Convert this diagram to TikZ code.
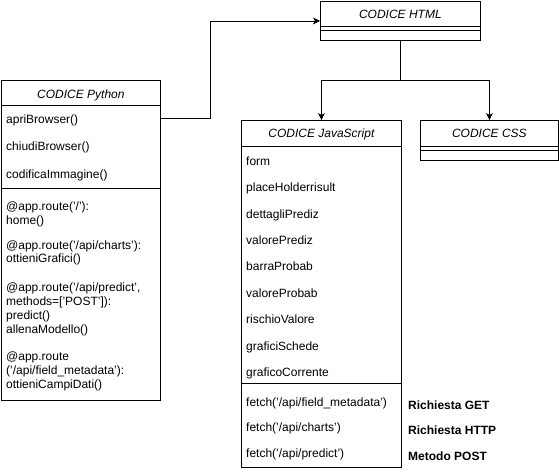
\documentclass[tikz,border=0pt]{standalone}
\usepackage{fontspec}
\setmainfont{Liberation Sans}
\usetikzlibrary{positioning,arrows.meta}

\tikzset{
  box/.style={draw, line width=0.8pt, anchor=north west, inner sep=0pt},
  head/.style={anchor=base, inner sep=0pt, font=\fontsize{12}{14}\selectfont\itshape},
  item/.style={anchor=north west, inner sep=0pt, text height=9pt, text depth=3pt, font=\fontsize{12}{14}\selectfont},
  note/.style={item, font=\fontsize{12}{14}\selectfont\bfseries},
  arr/.style={line width=0.8pt, -{Stealth[length=7pt,width=7pt,inset=2pt]}},
  link/.style={line width=0.8pt}
}

\begin{document}
\begin{tikzpicture}[x=1pt, y=-1pt]
	\useasboundingbox (0,0) rectangle (559,472);
	
	% boxes
	\node[box, minimum width=159pt, minimum height=320pt] (py) at (1,80) {};
	\node[box, minimum width=160pt, minimum height=39pt] (html) at (320,1) {};
	\node[box, minimum width=160pt, minimum height=347pt] (js) at (241,120) {};
	\node[box, minimum width=138pt, minimum height=40pt] (css) at (420,120) {};
	
	\node[head] (pyh) at ([yshift=-18pt]py.north) {CODICE Python};
	\node[head] (htmlh) at ([yshift=-17pt]html.north) {CODICE HTML};
	\node[head] (jsh) at ([yshift=-17pt]js.north) {CODICE JavaScript};
	\node[head] (cssh) at ([yshift=-17pt]css.north) {CODICE CSS};
	
	\draw[link] ([yshift=-25pt]py.north west) -- ([yshift=-25pt]py.north east);
	\draw[link] ([yshift=-108pt]py.north west) -- ([yshift=-108pt]py.north east);
	\draw[link] ([yshift=-25pt]html.north west) -- ([yshift=-25pt]html.north east);
	\draw[link] ([yshift=-29pt]html.north west) -- ([yshift=-29pt]html.north east);
	\draw[link] ([yshift=-26pt]js.north west) -- ([yshift=-26pt]js.north east);
	\draw[link] ([yshift=-263pt]js.north west) -- ([yshift=-263pt]js.north east);
	\draw[link] ([yshift=-26pt]css.north west) -- ([yshift=-26pt]css.north east);
	\draw[link] ([yshift=-30pt]css.north west) -- ([yshift=-30pt]css.north east);
	
	% python
	\node[item] (apri) at (6,114) {apriBrowser()};
	\node[item, below=15pt of apri.south west, anchor=north west] (chiudi) {chiudiBrowser()};
	\node[item, below=15pt of chiudi.south west, anchor=north west] (codifica) {codificaImmagine()};
	
	\node[item] (rhome) at (6,201) {@app.route('/'):};
	\node[item, below=1.5pt of rhome.south west, anchor=north west] (home) {home()};
	\node[item, below=12.5pt of home.south west, anchor=north west] (rcharts) {@app.route('/api/charts'):};
	\node[item, below=1.5pt of rcharts.south west, anchor=north west] (grafici) {ottieniGrafici()};
	\node[item, below=16.5pt of grafici.south west, anchor=north west] (rpredict) {@app.route('/api/predict',};
	\node[item, below=1.5pt of rpredict.south west, anchor=north west] (methods) {methods=['POST']):};
	\node[item, below=1.5pt of methods.south west, anchor=north west] (predict) {predict()};
	\node[item, below=1.5pt of predict.south west, anchor=north west] (allena) {allenaModello()};
	\node[item, below=14.5pt of allena.south west, anchor=north west] (rfield) {@app.route};
	\node[item, below=1.5pt of rfield.south west, anchor=north west] (field) {('/api/field\_metadata'):};
	\node[item, below=1.5pt of field.south west, anchor=north west] (campi) {ottieniCampiDati()};
	
	% javascript
	\node[item] (form) at (246,156) {form};
	\node[item, below=14pt of form.south west, anchor=north west] (holder) {placeHolderrisult};
	\node[item, below=14pt of holder.south west, anchor=north west] (dettagli) {dettagliPrediz};
	\node[item, below=14pt of dettagli.south west, anchor=north west] (valpred) {valorePrediz};
	\node[item, below=14pt of valpred.south west, anchor=north west] (barra) {barraProbab};
	\node[item, below=14pt of barra.south west, anchor=north west] (valprob) {valoreProbab};
	\node[item, below=14pt of valprob.south west, anchor=north west] (rischio) {rischioValore};
	\node[item, below=14pt of rischio.south west, anchor=north west] (schede) {graficiSchede};
	\node[item, below=14pt of schede.south west, anchor=north west] (corrente) {graficoCorrente};
	
	\node[item] (fmeta) at (246,397) {fetch('/api/field\_metadata')};
	\node[item, below=13pt of fmeta.south west, anchor=north west] (fcharts) {fetch('/api/charts')};
	\node[item, below=13pt of fcharts.south west, anchor=north west] (fpredict) {fetch('/api/predict')};
	
	\node[note] (get) at (408,400) {Richiesta GET};
	\node[note, below=13pt of get.south west, anchor=north west] (http) {Richiesta HTTP};
	\node[note, below=13pt of http.south west, anchor=north west] (post) {Metodo POST};
	
	% connectors
	\draw[arr] ([yshift=-38pt]py.north east) -- ++(50,0) |- (html.west);
	\draw[link] (html.south) -- ++(0,40) coordinate (split);
	\draw[arr] (split) -| (js.north);
	\draw[arr] (split) -| (css.north);
\end{tikzpicture}
\end{document}
